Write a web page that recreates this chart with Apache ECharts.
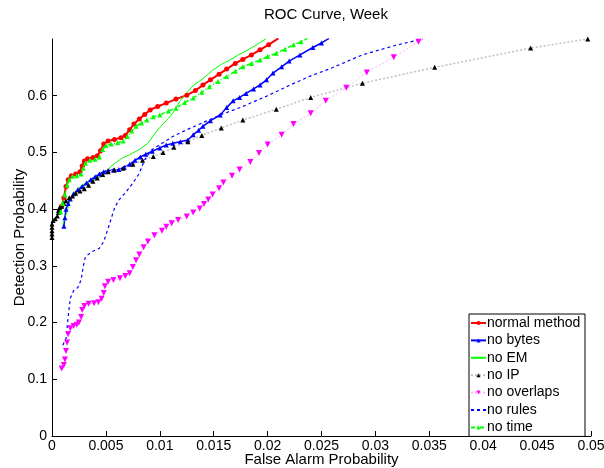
<!DOCTYPE html>
<html>
<head>
<meta charset="utf-8">
<script src="https://cdn.jsdelivr.net/npm/echarts@6/dist/echarts.min.js"></script>
<style>
html,body{margin:0;padding:0;background:#fff;}
#c{width:604px;height:468px;}
</style>
</head>
<body>
<div id="c"></div>
<script>
// ---- data ----
const xTicks = [0, 0.005, 0.01, 0.015, 0.02, 0.025, 0.03, 0.035, 0.04, 0.045, 0.05];
const yTicks = [0, 0.1, 0.2, 0.3, 0.4, 0.5, 0.6, 0.7];
const seriesNames = ["normal method", "no bytes", "no EM", "no IP", "no overlaps", "no rules", "no time"];

const normalMethod = [
  [0.0009,0.405],[0.0011,0.42],[0.0013,0.44],[0.0015,0.452],[0.0018,0.459],[0.0022,0.462],
  [0.0026,0.466],[0.0028,0.476],[0.0030,0.485],[0.0033,0.489],[0.0038,0.491],[0.0042,0.494],
  [0.0045,0.503],[0.0048,0.515],[0.0052,0.52],[0.0058,0.523],[0.0064,0.526],[0.0068,0.530],
  [0.0072,0.540],[0.0076,0.550],[0.0081,0.559],[0.0086,0.567],[0.0091,0.575],[0.0098,0.581],
  [0.0106,0.587],[0.0115,0.594],[0.0125,0.601],[0.0133,0.609],[0.0140,0.619],[0.0147,0.628],
  [0.0155,0.638],[0.0162,0.647],[0.0170,0.657],[0.0177,0.664],[0.0185,0.672],[0.0193,0.681],
  [0.0201,0.690],[0.0210,0.701]
];
const noBytes = [
  [0.0011,0.37],[0.0012,0.385],[0.0013,0.40],[0.0015,0.41],[0.0017,0.418],[0.0020,0.427],
  [0.0024,0.434],[0.0028,0.44],[0.0032,0.446],[0.0036,0.452],[0.0040,0.457],[0.0044,0.462],
  [0.0048,0.466],[0.0052,0.468],[0.0057,0.469],[0.0062,0.470],[0.0067,0.474],[0.0072,0.479],
  [0.0077,0.486],[0.0082,0.492],[0.0087,0.497],[0.0093,0.502],[0.0100,0.508],[0.0106,0.513],
  [0.0112,0.516],[0.0119,0.519],[0.0126,0.522],[0.0131,0.531],[0.0136,0.539],[0.0140,0.546],
  [0.0147,0.556],[0.0156,0.566],[0.0162,0.579],[0.0168,0.591],[0.0174,0.597],[0.0180,0.604],
  [0.0187,0.612],[0.0193,0.619],[0.0199,0.628],[0.0205,0.640],[0.0213,0.651],[0.0220,0.661],
  [0.0230,0.672],[0.0242,0.685],[0.0250,0.693],[0.0257,0.701]
];
const noEM = [
  [0.0010,0.372],[0.0013,0.39],[0.0016,0.41],[0.0019,0.425],[0.0022,0.432],[0.0026,0.44],
  [0.0034,0.449],[0.0046,0.457],[0.0055,0.476],[0.0065,0.49],[0.0072,0.496],[0.0080,0.504],
  [0.0089,0.516],[0.0095,0.532],[0.0100,0.544],[0.0106,0.556],[0.0112,0.569],[0.0119,0.591],
  [0.0125,0.605],[0.0131,0.618],[0.0140,0.63],[0.0149,0.645],[0.0157,0.655],[0.0165,0.663],
  [0.0172,0.671],[0.0180,0.679],[0.0190,0.69],[0.0199,0.701]
];
const noIP = [
  [0.0000,0.35],[0.0000,0.356],[0.0000,0.362],[0.0000,0.368],[0.0000,0.374],[0.0001,0.38],
  [0.0003,0.383],[0.0005,0.388],[0.0006,0.394],[0.0006,0.398],[0.0007,0.403],[0.0009,0.405],
  [0.0011,0.41],[0.0013,0.415],[0.0016,0.42],[0.0019,0.423],[0.0022,0.428],[0.0026,0.432],
  [0.0030,0.436],[0.0034,0.442],[0.0038,0.449],[0.0042,0.455],[0.0047,0.461],[0.0052,0.466],
  [0.0058,0.469],[0.0066,0.472],[0.0075,0.479],[0.0084,0.486],[0.0094,0.493],[0.0103,0.5],
  [0.0113,0.509],[0.0126,0.519],[0.0139,0.53],[0.0157,0.543],[0.0177,0.557],[0.0208,0.576],
  [0.024,0.597],[0.0288,0.622],[0.0355,0.65],[0.0444,0.684],[0.0497,0.70]
];
const noOverlaps = [
  [0.0009,0.119],[0.0011,0.125],[0.0012,0.135],[0.0013,0.15],[0.0014,0.165],[0.0015,0.18],
  [0.0017,0.19],[0.0020,0.194],[0.0023,0.196],[0.0025,0.20],[0.0027,0.21],[0.0028,0.222],
  [0.0030,0.229],[0.0034,0.233],[0.0039,0.234],[0.0043,0.236],[0.0046,0.242],[0.0048,0.252],
  [0.0049,0.264],[0.0052,0.272],[0.0057,0.275],[0.0063,0.278],[0.0068,0.282],[0.0072,0.287],
  [0.0075,0.298],[0.0078,0.31],[0.0081,0.32],[0.0085,0.333],[0.0089,0.343],[0.0095,0.354],
  [0.0102,0.362],[0.0106,0.369],[0.0111,0.375],[0.0117,0.381],[0.0125,0.387],[0.0131,0.394],
  [0.0137,0.401],[0.0141,0.409],[0.0145,0.417],[0.0149,0.426],[0.0155,0.437],[0.0159,0.447],
  [0.0167,0.459],[0.0174,0.47],[0.0184,0.483],[0.0192,0.499],[0.0200,0.514],[0.0213,0.531],
  [0.0224,0.55],[0.0240,0.569],[0.0254,0.591],[0.0273,0.614],[0.0292,0.641],[0.0317,0.668],
  [0.0340,0.695],[0.0346,0.701]
];
const noRules = [
  [0.0010,0.16],[0.0013,0.172],[0.0015,0.21],[0.0017,0.243],[0.0020,0.256],[0.0024,0.262],
  [0.0027,0.275],[0.0029,0.299],[0.0031,0.316],[0.0037,0.325],[0.0044,0.331],[0.0048,0.343],
  [0.0051,0.36],[0.0055,0.384],[0.0058,0.402],[0.0062,0.416],[0.0069,0.431],[0.0075,0.446],
  [0.0081,0.463],[0.0084,0.478],[0.0086,0.487],[0.0092,0.504],[0.0102,0.516],[0.0112,0.528],
  [0.0125,0.54],[0.0137,0.55],[0.0156,0.566],[0.0177,0.581],[0.0200,0.60],[0.0220,0.618],
  [0.0240,0.635],[0.0257,0.647],[0.0288,0.672],[0.0319,0.689],[0.0344,0.70]
];
const noTime = [
  [0.0008,0.395],[0.0010,0.41],[0.0012,0.425],[0.0014,0.442],[0.0016,0.452],[0.0019,0.458],
  [0.0023,0.459],[0.0027,0.462],[0.0029,0.472],[0.0031,0.481],[0.0035,0.486],[0.0040,0.488],
  [0.0044,0.492],[0.0047,0.505],[0.0050,0.512],[0.0055,0.515],[0.0061,0.517],[0.0066,0.520],
  [0.0070,0.528],[0.0074,0.538],[0.0078,0.546],[0.0083,0.552],[0.0088,0.557],[0.0094,0.563],
  [0.0100,0.566],[0.0108,0.573],[0.0115,0.578],[0.0123,0.588],[0.0131,0.596],[0.0139,0.606],
  [0.0146,0.616],[0.0154,0.625],[0.0162,0.634],[0.0170,0.643],[0.0177,0.651],[0.0185,0.657],
  [0.0193,0.663],[0.0200,0.669],[0.0208,0.675],[0.0216,0.682],[0.0224,0.690],[0.0231,0.695],
  [0.0237,0.701]
];

// ---- chart ----
const FONT = '"Liberation Sans", Arial, Helvetica, sans-serif';
const chart = echarts.init(document.getElementById('c'), null, {renderer: 'canvas'});
const axisCommon = {
  axisLine: {show: true, lineStyle: {color: '#000', width: 1}},
  axisTick: {show: true, inside: true, length: 5, lineStyle: {color: '#000'}},
  splitLine: {show: false},
  axisLabel: {color: '#000', fontFamily: FONT, fontSize: 14},
  nameTextStyle: {color: '#000', fontFamily: FONT, fontSize: 15},
  nameMoveOverlap: false
};
const legendData = seriesNames.map(n => (n === 'no EM' || n === 'no rules')
  ? {name: n, itemStyle: {opacity: 0}} : {name: n});
const option = {
  animation: false,
  backgroundColor: '#fff',
  title: {
    text: 'ROC Curve, Week',
    left: 321, top: 2, textAlign: 'center',
    textStyle: {fontFamily: FONT, fontSize: 15, fontWeight: 'normal', color: '#000'}
  },
  grid: {left: 52, right: 13, top: 39, bottom: 32, containLabel: false, outerBoundsMode: 'none'},
  xAxis: Object.assign({}, axisCommon, {
    type: 'value', min: xTicks[0], max: xTicks[xTicks.length - 1], interval: xTicks[1] - xTicks[0],
    name: 'False Alarm Probability', nameLocation: 'middle', nameGap: 16,
    axisLabel: Object.assign({}, axisCommon.axisLabel, {margin: 3, formatter: v => String(+v.toFixed(4))})
  }),
  yAxis: Object.assign({}, axisCommon, {
    type: 'value', min: yTicks[0], max: yTicks[yTicks.length - 1], interval: yTicks[1] - yTicks[0],
    name: 'Detection Probability', nameLocation: 'middle', nameGap: 25, nameRotate: 90,
    axisLabel: Object.assign({}, axisCommon.axisLabel, {margin: 5, showMaxLabel: false, formatter: v => String(+v.toFixed(2))})
  }),
  legend: {
    orient: 'vertical', left: 469, top: 314,
    backgroundColor: '#fff', borderColor: '#000', borderWidth: 1,
    padding: [2, 2, 2, 1], itemGap: 3.4, itemWidth: 15, itemHeight: 5,
    textStyle: {fontFamily: FONT, fontSize: 14, color: '#000', lineHeight: 14, width: 96, padding: [0, 0, 0, -4]},
    data: legendData
  },
  series: [
    {name: seriesNames[0], type: 'line', data: normalMethod, symbol: 'circle', symbolSize: 5,
      lineStyle: {color: '#ff0000', width: 2}, itemStyle: {color: '#ff0000'}},
    {name: seriesNames[1], type: 'line', data: noBytes, symbol: 'triangle', symbolSize: 5,
      lineStyle: {color: '#0000ff', width: 1.5}, itemStyle: {color: '#0000ff'}},
    {name: seriesNames[2], type: 'line', data: noEM, symbol: 'none', showSymbol: false,
      lineStyle: {color: '#00ff00', width: 1}, itemStyle: {color: '#00ff00'}},
    {name: seriesNames[3], type: 'line', data: noIP, symbol: 'triangle', symbolSize: 5,
      lineStyle: {color: '#c0c0c0', width: 1.5, type: [2, 2]}, itemStyle: {color: '#000'}},
    {name: seriesNames[4], type: 'line', data: noOverlaps, symbol: 'triangle', symbolRotate: 180, symbolSize: 6,
      lineStyle: {color: '#ffb0ff', width: 1, type: [2, 2]}, itemStyle: {color: '#ff00ff'}},
    {name: seriesNames[5], type: 'line', data: noRules, symbol: 'none', showSymbol: false,
      lineStyle: {color: '#0000ff', width: 1.2, type: [3, 3]}, itemStyle: {color: '#0000ff'}},
    {name: seriesNames[6], type: 'line', data: noTime, symbol: 'triangle', symbolSize: 5,
      lineStyle: {color: '#00ff00', width: 1.5, type: [4, 2, 1, 2]}, itemStyle: {color: '#00ff00'}}
  ]
};
chart.setOption(option);
</script>
</body>
</html>
